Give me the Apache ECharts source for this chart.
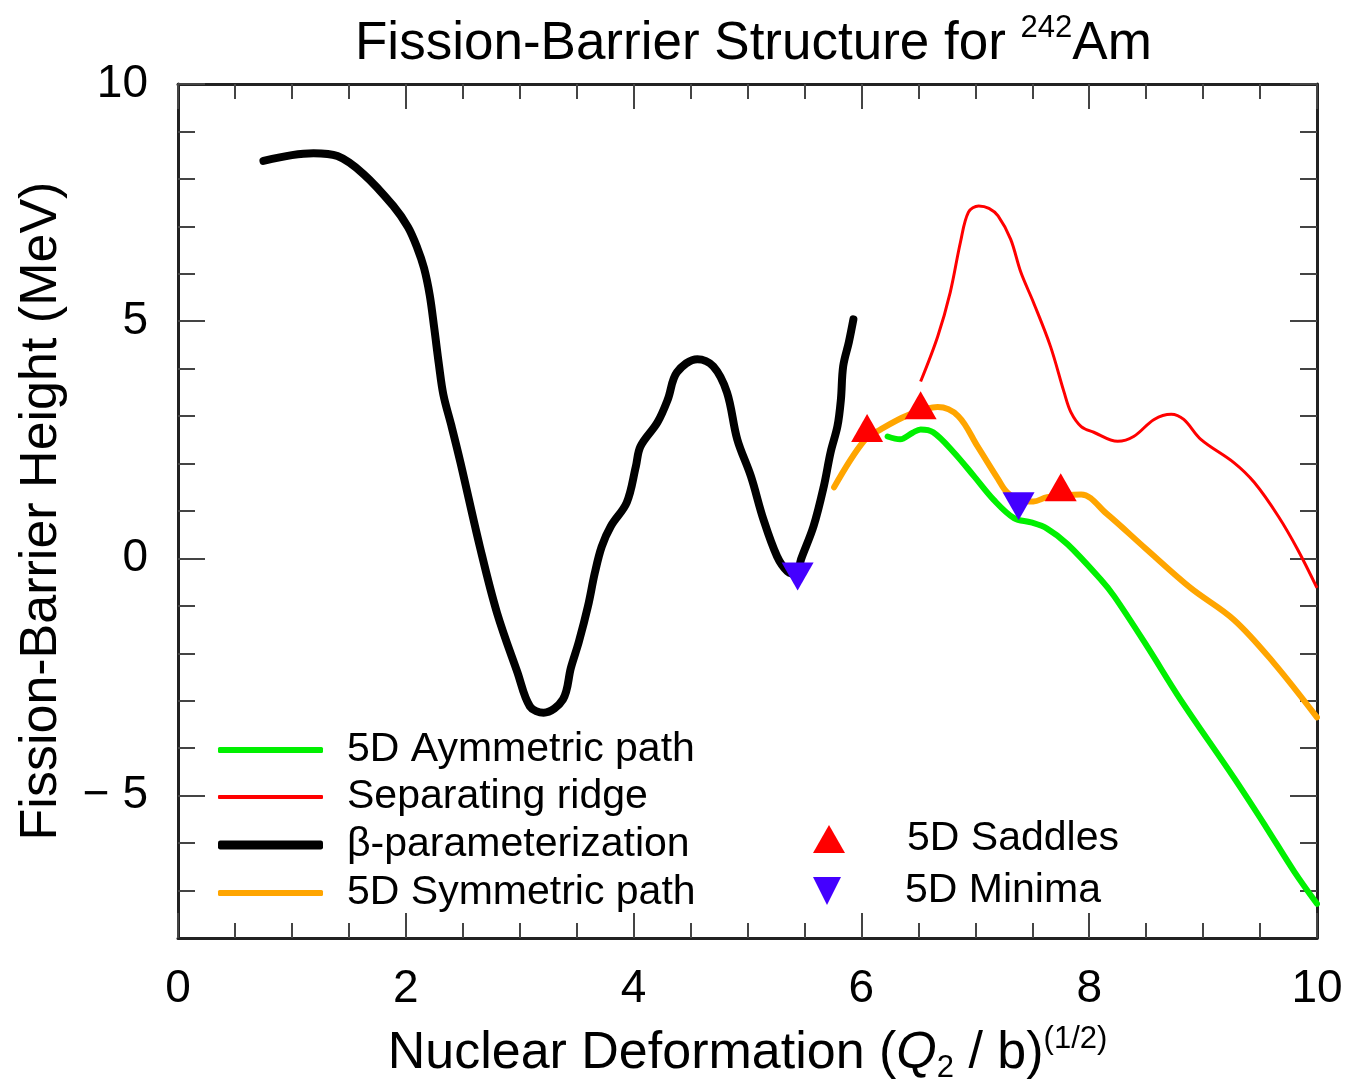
<!DOCTYPE html>
<html>
<head>
<meta charset="utf-8">
<title>Fission-Barrier Structure for 242Am</title>
<script src="https://cdn.jsdelivr.net/npm/echarts@6/dist/echarts.min.js"></script>
<style>
  html, body { margin: 0; padding: 0; background: #fff; }
  #chart { width: 1351px; height: 1086px; }
</style>
</head>
<body>
<div id="chart"></div>
<script>
// Barrier curves: deformation (Q2/b)^(1/2) and energy (MeV)
const betaX = [0.75, 1.00, 1.19, 1.40, 1.63, 1.89, 2.02, 2.10, 2.16, 2.21, 2.25, 2.29, 2.33, 2.40, 2.48, 2.65, 2.80, 2.98, 3.09, 3.21, 3.38, 3.45, 3.52, 3.60, 3.66, 3.72, 3.80, 3.94, 4.02, 4.06, 4.21, 4.30, 4.38, 4.56, 4.70, 4.82, 4.91, 5.03, 5.14, 5.26, 5.35, 5.43, 5.47, 5.58, 5.67, 5.73, 5.79, 5.82, 5.84, 5.89, 5.93];
const betaY = [8.38, 8.50, 8.54, 8.48, 8.10, 7.43, 6.98, 6.55, 6.12, 5.55, 4.85, 4.10, 3.45, 2.80, 2.02, 0.25, -1.14, -2.40, -3.12, -3.25, -2.97, -2.30, -1.75, -1.00, -0.30, 0.25, 0.68, 1.18, 1.94, 2.36, 2.87, 3.35, 3.92, 4.20, 4.05, 3.50, 2.51, 1.73, 0.82, 0.04, -0.27, -0.34, -0.02, 0.68, 1.52, 2.24, 2.79, 3.35, 4.05, 4.56, 5.04];

const symX = [5.76, 6.02, 6.17, 6.41, 6.67, 6.85, 7.02, 7.20, 7.28, 7.40, 7.51, 7.63, 7.93, 8.15, 8.50, 8.89, 9.27, 9.62, 10.00];
const symY = [1.50, 2.47, 2.72, 3.02, 3.19, 3.00, 2.36, 1.67, 1.39, 1.22, 1.20, 1.29, 1.35, 0.95, 0.20, -0.62, -1.29, -2.20, -3.35];

const asymX = [6.23, 6.34, 6.45, 6.52, 6.63, 6.81, 6.99, 7.16, 7.34, 7.49, 7.63, 7.81, 8.10, 8.22, 8.51, 8.80, 9.27, 9.55, 9.80, 10.00];
const asymY = [2.57, 2.51, 2.65, 2.72, 2.66, 2.24, 1.73, 1.24, 0.85, 0.76, 0.63, 0.30, -0.44, -0.80, -1.86, -2.97, -4.62, -5.65, -6.60, -7.28];

const ridgeX = [6.52, 6.67, 6.78, 6.87, 6.94, 7.03, 7.12, 7.20, 7.31, 7.40, 7.51, 7.66, 7.78, 7.84, 7.93, 8.04, 8.25, 8.39, 8.57, 8.72, 8.83, 8.98, 9.27, 9.45, 9.66, 9.83, 10.00];
const ridgeY = [3.73, 4.68, 5.61, 6.67, 7.30, 7.43, 7.38, 7.22, 6.73, 6.03, 5.40, 4.47, 3.50, 3.08, 2.78, 2.66, 2.47, 2.57, 2.93, 3.04, 2.93, 2.51, 2.02, 1.60, 0.89, 0.19, -0.62];

// Stationary points of the 5D surface
const saddleX = [6.05, 6.52, 7.75];
const saddleY = [2.75, 3.23, 1.50];
const minimaX = [5.44, 7.38];
const minimaY = [-0.38, 1.10];

// Axis ticks
const xMajorTicks = [0, 2, 4, 6, 8, 10];
const xMinorTicks = [0.5, 1, 1.5, 2.5, 3, 3.5, 4.5, 5, 5.5, 6.5, 7, 7.5, 8.5, 9, 9.5];
const yMajorTicks = [-5, 0, 5, 10];
const yMinorTicks = [-7, -6, -4, -3, -2, -1, 1, 2, 3, 4, 6, 7, 8, 9];

const zip = (xs, ys) => xs.map((x, i) => [x, ys[i]]);

const FONT = 'Liberation Sans';
const FRAME = { show: true, onZero: false, lineStyle: { color: '#222', width: 3 } };
const NO_LINE = { show: false, onZero: false };
const TICK_STYLE = { color: '#444', width: 2 };

const chart = echarts.init(document.getElementById('chart'), null, { renderer: 'canvas' });

function xAxisDef(position, ticks, len, withLine) {
  return {
    type: 'value', position, min: 0, max: 10,
    axisLine: withLine ? FRAME : NO_LINE,
    axisTick: { show: true, inside: true, length: len, customValues: ticks, lineStyle: TICK_STYLE },
    axisLabel: { show: false },
    splitLine: { show: false }
  };
}
function yAxisDef(position, ticks, len, withLine) {
  return {
    type: 'value', position, min: -8, max: 10,
    axisLine: withLine ? FRAME : NO_LINE,
    axisTick: { show: true, inside: true, length: len, customValues: ticks, lineStyle: TICK_STYLE },
    axisLabel: { show: false },
    splitLine: { show: false }
  };
}

const xMain = xAxisDef('bottom', xMinorTicks, 15, true);
xMain.axisLabel = {
  show: true, customValues: xMajorTicks, margin: 28,
  fontFamily: FONT, fontSize: 46, color: '#000'
};
xMain.name = '{t|Nuclear Deformation (}{i|Q}{sub|2}{t| / b)}{sup|(1/2)}';
xMain.nameLocation = 'middle';
xMain.nameGap = 86;
xMain.nameTextStyle = {
  rich: {
    t: { fontFamily: FONT, fontSize: 52, color: '#000', lineHeight: 60 },
    i: { fontFamily: FONT, fontSize: 52, fontStyle: 'italic', color: '#000', lineHeight: 60 },
    sub: { fontFamily: FONT, fontSize: 31, color: '#000', verticalAlign: 'bottom', lineHeight: 30 },
    sup: { fontFamily: FONT, fontSize: 31, color: '#000', verticalAlign: 'top', lineHeight: 30 }
  }
};

const yMain = yAxisDef('left', yMinorTicks, 17, true);
yMain.axisLabel = {
  show: true, customValues: yMajorTicks, margin: 30,
  fontFamily: FONT, fontSize: 46, color: '#000',
  formatter: v => (v < 0 ? '\u2212 ' + Math.abs(v) : String(v))
};
yMain.name = 'Fission-Barrier Height (MeV)';
yMain.nameLocation = 'middle';
yMain.nameRotate = 90;
yMain.nameGap = 110;
yMain.nameTextStyle = { fontFamily: FONT, fontSize: 52, color: '#000' };

function lineLegend(name, centerY, h) {
  return {
    data: [{ name, icon: 'roundRect' }],
    left: 213, top: centerY - 23, orient: 'vertical', selectedMode: false,
    itemWidth: 105, itemHeight: h,
    textStyle: { fontFamily: FONT, fontSize: 41, lineHeight: 46, color: '#000', padding: [0, 0, 0, 19] }
  };
}
function markLegend(name, icon, centerY) {
  return {
    data: [{ name, icon }],
    left: 808, top: centerY - 23, orient: 'vertical', selectedMode: false,
    itemWidth: 32, itemHeight: 28,
    textStyle: { fontFamily: FONT, fontSize: 41, lineHeight: 46, color: '#000', padding: [0, 0, 0, 57] }
  };
}

const option = {
  animation: false,
  backgroundColor: '#fff',
  title: {
    text: '{t|Fission-Barrier Structure for }{s|242}{t|Am}',
    left: 350, top: 8,
    textStyle: {
      fontWeight: 'normal',
      rich: {
        t: { fontFamily: FONT, fontSize: 53, fontWeight: 'normal', color: '#000', lineHeight: 62 },
        s: { fontFamily: FONT, fontSize: 31, fontWeight: 'normal', color: '#000', verticalAlign: 'top', lineHeight: 34 }
      }
    }
  },
  grid: { left: 178, right: 34, top: 84, bottom: 148, containLabel: false, outerBoundsMode: 'none' },
  xAxis: [
    xMain,
    xAxisDef('bottom', xMajorTicks, 25, false),
    xAxisDef('top', xMinorTicks, 15, true),
    xAxisDef('top', xMajorTicks, 25, false)
  ],
  yAxis: [
    yMain,
    yAxisDef('left', yMajorTicks, 27, false),
    yAxisDef('right', yMinorTicks, 17, true),
    yAxisDef('right', yMajorTicks, 27, false)
  ],
  legend: [
    lineLegend('5D Aymmetric path', 745, 6),
    lineLegend('Separating ridge', 792, 4),
    lineLegend('\u03b2-parameterization', 840, 9),
    lineLegend('5D Symmetric path', 888, 6),
    markLegend('5D Saddles', 'triangle', 834),
    markLegend('5D Minima', 'path://M0,0L2,0L1,2Z', 886)
  ],
  series: [
    {
      name: '\u03b2-parameterization', type: 'line', data: zip(betaX, betaY),
      smooth: 0.35, showSymbol: false, symbol: 'none', color: '#000',
      lineStyle: { color: '#000', width: 8, cap: 'round', join: 'round' }, z: 2
    },
    {
      name: '5D Symmetric path', type: 'line', data: zip(symX, symY),
      smooth: 0.35, showSymbol: false, symbol: 'none', color: '#ffa500',
      lineStyle: { color: '#ffa500', width: 6, cap: 'round', join: 'round' }, z: 3
    },
    {
      name: '5D Aymmetric path', type: 'line', data: zip(asymX, asymY),
      smooth: 0.35, showSymbol: false, symbol: 'none', color: '#00f000',
      lineStyle: { color: '#00f000', width: 6, cap: 'round', join: 'round' }, z: 3
    },
    {
      name: 'Separating ridge', type: 'line', data: zip(ridgeX, ridgeY),
      smooth: 0.35, showSymbol: false, symbol: 'none', color: '#ff0000',
      lineStyle: { color: '#ff0000', width: 3, join: 'round' }, z: 3
    },
    {
      name: '5D Saddles', type: 'scatter', data: zip(saddleX, saddleY),
      symbol: 'triangle', symbolSize: [32, 28], color: '#ff0000',
      itemStyle: { color: '#ff0000', opacity: 1 }, z: 5
    },
    {
      name: '5D Minima', type: 'scatter', data: zip(minimaX, minimaY),
      symbol: 'triangle', symbolRotate: 180, symbolSize: [32, 28], color: '#4400ff',
      itemStyle: { color: '#4400ff', opacity: 1 }, z: 5
    }
  ]
};

chart.setOption(option);
</script>
</body>
</html>
